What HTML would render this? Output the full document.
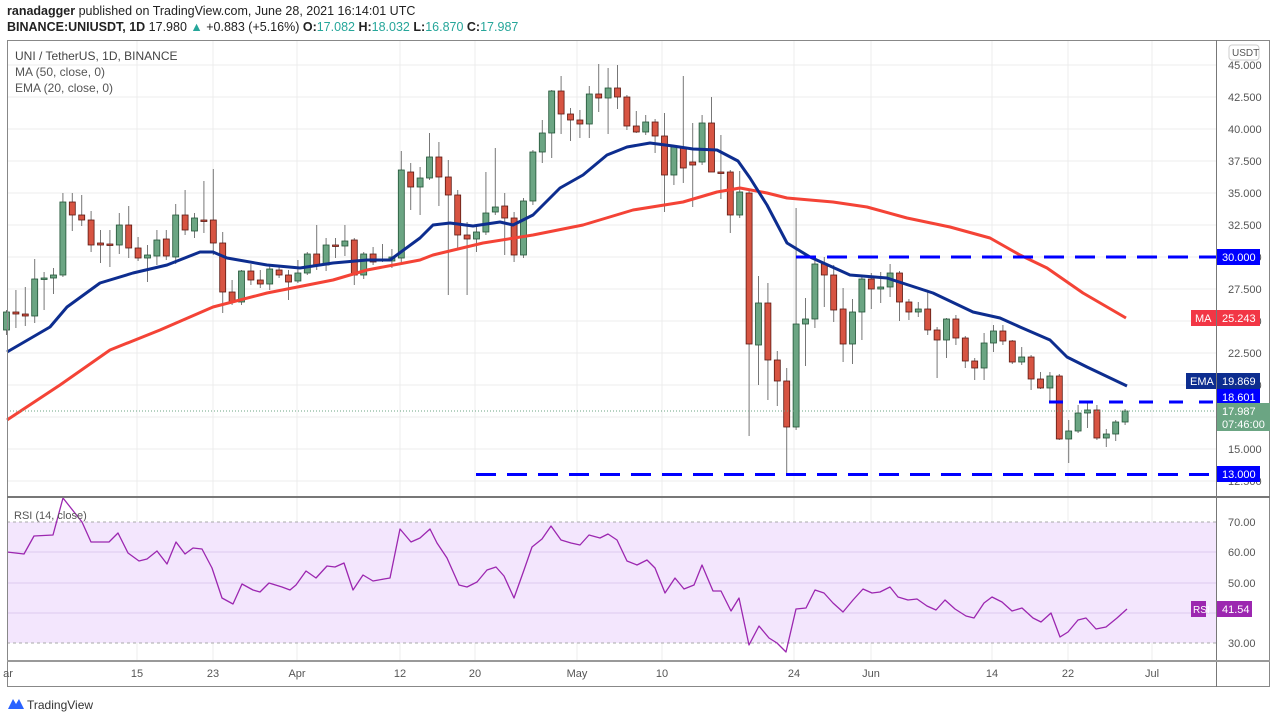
<!DOCTYPE html>
<html><head><meta charset="utf-8">
<style>
html,body{margin:0;padding:0;background:#fff;width:1280px;height:721px;overflow:hidden;font-family:"Liberation Sans",sans-serif;}
svg text{font-family:"Liberation Sans",sans-serif;}
</style></head><body>
<svg id="s" width="1280" height="721" viewBox="0 0 1280 721" xmlns="http://www.w3.org/2000/svg">
<rect width="1280" height="721" fill="#fff"/>
<text x="7" y="15" font-size="12.5" fill="#222"><tspan font-weight="bold">ranadagger</tspan> published on TradingView.com, June 28, 2021 16:14:01 UTC</text>
<text x="7" y="31" font-size="12.5" fill="#222"><tspan font-weight="bold">BINANCE:UNIUSDT, 1D</tspan> 17.980 <tspan fill="#26a69a">▲</tspan> +0.883 (+5.16%) <tspan font-weight="bold">O:</tspan><tspan fill="#26a69a">17.082</tspan> <tspan font-weight="bold">H:</tspan><tspan fill="#26a69a">18.032</tspan> <tspan font-weight="bold">L:</tspan><tspan fill="#26a69a">16.870</tspan> <tspan font-weight="bold">C:</tspan><tspan fill="#26a69a">17.987</tspan></text>
<g id="grid"></g>
<!-- RSI band -->
<rect x="7" y="522" width="1209" height="121" fill="#f3e6fd"/>
<g id="rsig"></g>
<g id="cand"></g>
<g id="lines"></g>
<!-- frame -->
<rect x="7.5" y="40.5" width="1262" height="646" fill="none" stroke="#888" stroke-width="1"/>
<line x1="1216.5" y1="40" x2="1216.5" y2="687" stroke="#777"/>
<line x1="7" y1="497" x2="1270" y2="497" stroke="#777" stroke-width="2"/>
<line x1="7" y1="661" x2="1270" y2="661" stroke="#999" stroke-width="2"/>
<g id="plabels" font-size="11" fill="#555"></g>
<text x="15" y="60" font-size="12" fill="#444">UNI / TetherUS, 1D, BINANCE</text>
<text x="15" y="76" font-size="12" fill="#555">MA (50, close, 0)</text>
<text x="15" y="92" font-size="12" fill="#555">EMA (20, close, 0)</text>
<text x="14" y="519" font-size="11" fill="#555">RSI (14, close)</text>
<rect x="1229" y="45" width="30" height="15" rx="3" fill="#fff" stroke="#ccc"/>
<text x="1232" y="56" font-size="10" fill="#555">USDT</text>
<!-- value labels -->
<rect x="1217" y="249" width="43" height="16" fill="#0000ff"/><text x="1222" y="261" font-size="11" fill="#fff">30.000</text>
<rect x="1191" y="310" width="25" height="16" fill="#f23645"/><text x="1195" y="322" font-size="11" fill="#fff">MA</text>
<rect x="1217" y="310" width="43" height="16" fill="#f23645"/><text x="1222" y="322" font-size="11" fill="#fff">25.243</text>
<rect x="1186" y="373" width="30" height="16" fill="#0d2d8f"/><text x="1190" y="385" font-size="11" fill="#fff">EMA</text>
<rect x="1217" y="373" width="43" height="16" fill="#0d2d8f"/><text x="1222" y="385" font-size="11" fill="#fff">19.869</text>
<rect x="1217" y="389" width="43" height="16" fill="#0000ff"/><text x="1222" y="401" font-size="11" fill="#fff">18.601</text>
<rect x="1217" y="403" width="53" height="28" fill="#6ba583"/><text x="1222" y="415" font-size="11" fill="#fff">17.987</text><text x="1222" y="428" font-size="11" fill="#fff">07:46:00</text>
<rect x="1217" y="466" width="43" height="16" fill="#0000ff"/><text x="1222" y="478" font-size="11" fill="#fff">13.000</text>
<rect x="1191" y="601" width="15" height="16" fill="#9c27b0"/><text x="1193" y="613" font-size="10" fill="#fff">RSI</text>
<rect x="1217" y="601" width="35" height="16" fill="#9c27b0"/><text x="1222" y="613" font-size="11" fill="#fff">41.54</text>
<g font-size="11" fill="#555">
<text x="1228" y="526">70.00</text><text x="1228" y="556">60.00</text><text x="1228" y="587">50.00</text><text x="1228" y="647">30.00</text>
</g>
<g font-size="11" fill="#555" text-anchor="middle">
<text x="8" y="677">ar</text><text x="137" y="677">15</text><text x="213" y="677">23</text><text x="297" y="677">Apr</text><text x="400" y="677">12</text><text x="475" y="677">20</text><text x="577" y="677">May</text><text x="662" y="677">10</text><text x="794" y="677">24</text><text x="871" y="677">Jun</text><text x="992" y="677">14</text><text x="1068" y="677">22</text><text x="1152" y="677">Jul</text>
</g>
<g transform="translate(8,697)"><path d="M0 12 L5 2 L8 7 L11 2 L16 12 Z" fill="#2962ff"/></g>
<text x="27" y="709" font-size="12" fill="#333">TradingView</text>
</svg>
<script>
var NS="http://www.w3.org/2000/svg";
function el(p,t,a){var e=document.createElementNS(NS,t);for(var k in a)e.setAttribute(k,a[k]);document.getElementById(p).appendChild(e);return e;}
function Y(p){return 65+(45-p)*12.8;}
// grid
for(var p=12.5;p<=45;p+=2.5){var y=Y(p);if(y>497)continue;el("grid","line",{x1:7,x2:1216,y1:y,y2:y,stroke:"#ececec"});
 var t=el("plabels","text",{x:1228,y:y+4});t.textContent=p.toFixed(3);}
var vx=[137,213,297,400,475,577,662,794,871,992,1068,1152];
vx.forEach(function(x){el("grid","line",{x1:x,x2:x,y1:40,y2:661,stroke:"#ececec"});});
[552,583,613].forEach(function(y){el("rsig","line",{x1:7,x2:1216,y1:y,y2:y,stroke:"#ddc9ee"});});
[522,643].forEach(function(y){el("rsig","line",{x1:7,x2:1216,y1:y,y2:y,stroke:"#aaa","stroke-dasharray":"3,3"});});
// candles [O,C,H,L] in pixel y
var C=[[330,312,310,335],[312,314,290,328],[314,316,287,326],[316,279,259,323],[279,278,272,310],[278,275,268,294],[275,202,193,277],[202,215,193,231],[215,220,195,226],[220,245,211,252],
[243,245,230,263],[244,245,230,267],[245,225,213,254],[225,248,206,258],[248,258,237,261],[258,255,245,282],[256,240,230,265],[239,256,230,260],[257,215,204,264],[215,230,190,235],
[231,218,213,238],[220,221,181,233],[220,243,169,255],[243,292,232,313],[292,302,280,305],[302,271,270,305],[271,280,264,285],[280,284,270,288],[284,269,265,290],[270,275,265,278],
[275,282,270,300],[281,273,260,283],[273,254,252,275],[254,265,225,270],[265,245,238,271],[245,246,238,258],[246,241,225,256],[240,275,238,285],[275,254,252,279],[254,262,247,265],
[261,259,244,262],[261,257,249,268],[258,170,151,262],[172,187,163,210],[187,178,167,215],[178,157,133,180],[157,177,142,206],[177,195,160,295],[195,235,190,250],[235,239,222,295],
[239,232,225,252],[232,213,172,235],[212,207,148,215],[206,218,193,255],[218,255,212,262],[255,201,198,258],[201,152,150,205],[152,133,120,163],[133,91,90,158],[91,114,76,134],
[114,120,108,141],[120,124,110,138],[124,94,86,138],[94,98,64,112],[98,88,68,134],[88,97,65,109],[97,126,95,130],[126,132,111,133],[132,122,115,135],[122,136,119,153],
[136,175,113,212],[175,147,145,185],[147,168,76,183],[162,165,123,207],[162,123,115,165],[123,172,97,172],[172,173,135,199],[172,215,170,233],[215,192,171,218],[193,344,190,436],
[345,303,276,385],[303,360,283,400],[360,381,351,406],[381,427,368,473],[427,324,208,430],[324,319,298,366],[319,264,260,328],[264,275,257,307],[275,310,265,322],[309,344,288,362],
[344,312,299,364],[312,279,276,340],[279,289,273,309],[289,287,272,303],[287,273,264,297],[273,302,271,321],[302,312,299,320],[312,309,302,317],[309,330,290,335],[330,340,327,378],
[340,319,318,358],[319,338,315,345],[338,361,336,368],[361,368,358,380],[368,343,333,380],[343,331,325,352],[331,341,325,345],[341,362,340,364],[362,357,347,365],[357,379,355,390],
[379,388,372,389],[388,376,372,403],[376,439,374,440],[439,431,420,463],[431,413,405,433],[413,410,402,428],[410,438,405,440],[438,434,429,447],[434,422,420,441],[422,411,409,425]];
C.forEach(function(c,i){var x=6.5+9.4*i;var up=c[1]<c[0];
 el("cand","line",{x1:x,x2:x,y1:c[2],y2:c[3],stroke:"#777","stroke-width":1});
 var t=Math.min(c[0],c[1]),h=Math.max(1.5,Math.abs(c[0]-c[1]));
 el("cand","rect",{x:x-3,y:t,width:6,height:h,fill:up?"#6ba583":"#d75442",stroke:up?"#225437":"#5b1a13","stroke-width":0.8});});
function pl(pts,col,w,g){el(g,"polyline",{points:pts.map(function(p){return p.join(",")}).join(" "),fill:"none",stroke:col,"stroke-width":w,"stroke-linejoin":"round"});}
pl([[7,420],[60,385],[110,350],[160,330],[213,307],[267,293],[333,280],[367,270],[420,260],[433,255],[483,243],[533,235],[583,225],[633,210],[683,202],[717,192],[740,188],[767,193],[787,198],[833,202],[867,207],[907,218],[950,227],[990,238],[1020,255],[1047,268],[1083,293],[1126,318]],"#f44336",3,"lines");
pl([[7,352],[50,327],[67,307],[100,283],[133,273],[167,265],[200,252],[213,252],[227,258],[267,265],[300,268],[333,263],[367,260],[390,260],[420,238],[433,225],[450,223],[473,226],[500,222],[513,225],[533,215],[560,188],[583,175],[607,155],[627,147],[650,143],[673,146],[693,149],[717,150],[738,161],[750,178],[767,205],[787,243],[810,257],[850,275],[887,278],[933,293],[973,312],[1000,318],[1020,327],[1050,340],[1067,357],[1087,367],[1127,386]],"#0d2d8f",3,"lines");
// dashed levels
el("lines","line",{x1:796,x2:1216,y1:257,y2:257,stroke:"#0000ff","stroke-width":3,"stroke-dasharray":"20,11"});
el("lines","line",{x1:1049,x2:1216,y1:402,y2:402,stroke:"#0000ff","stroke-width":3,"stroke-dasharray":"14,16"});
el("lines","line",{x1:476,x2:1216,y1:474.5,y2:474.5,stroke:"#0000ff","stroke-width":3,"stroke-dasharray":"20,11"});
el("lines","line",{x1:7,x2:1216,y1:411,y2:411,stroke:"#6ba583","stroke-width":1,"stroke-dasharray":"1,2"});
var R=[[7,552],[24,554],[34,536],[53,535],[63,498],[82,522],[91,542],[109,542],[118,533],[128,553],[139,561],[147,559],[157,551],[167,564],[176,542],[185,554],[193,548],[202,549],[212,568],[222,598],[233,604],[242,584],[253,590],[260,592],[269,583],[282,587],[290,590],[296,585],[306,571],[316,578],[327,566],[335,567],[344,563],[353,590],[363,575],[373,581],[384,579],[390,578],[400,529],[411,542],[420,538],[430,529],[437,543],[447,558],[459,585],[467,587],[477,582],[487,570],[496,567],[504,576],[514,598],[524,570],[532,547],[542,539],[551,526],[561,540],[571,543],[580,545],[589,535],[600,538],[608,534],[617,540],[627,561],[637,565],[647,560],[655,568],[665,593],[675,578],[684,589],[694,585],[702,565],[713,591],[721,591],[731,611],[739,598],[749,645],[759,626],[769,638],[777,643],[786,652],[796,609],[806,608],[815,590],[824,593],[833,603],[843,612],[853,600],[863,589],[872,593],[880,592],[890,587],[898,597],[908,600],[917,599],[927,606],[936,610],[945,600],[955,609],[966,616],[974,618],[984,603],[992,597],[1002,602],[1012,611],[1022,608],[1033,618],[1041,622],[1051,613],[1060,637],[1068,632],[1078,620],[1086,618],[1096,629],[1106,627],[1117,618],[1127,609]];
pl(R,"#9c27b0",1.3,"lines");
</script>
</body></html>
